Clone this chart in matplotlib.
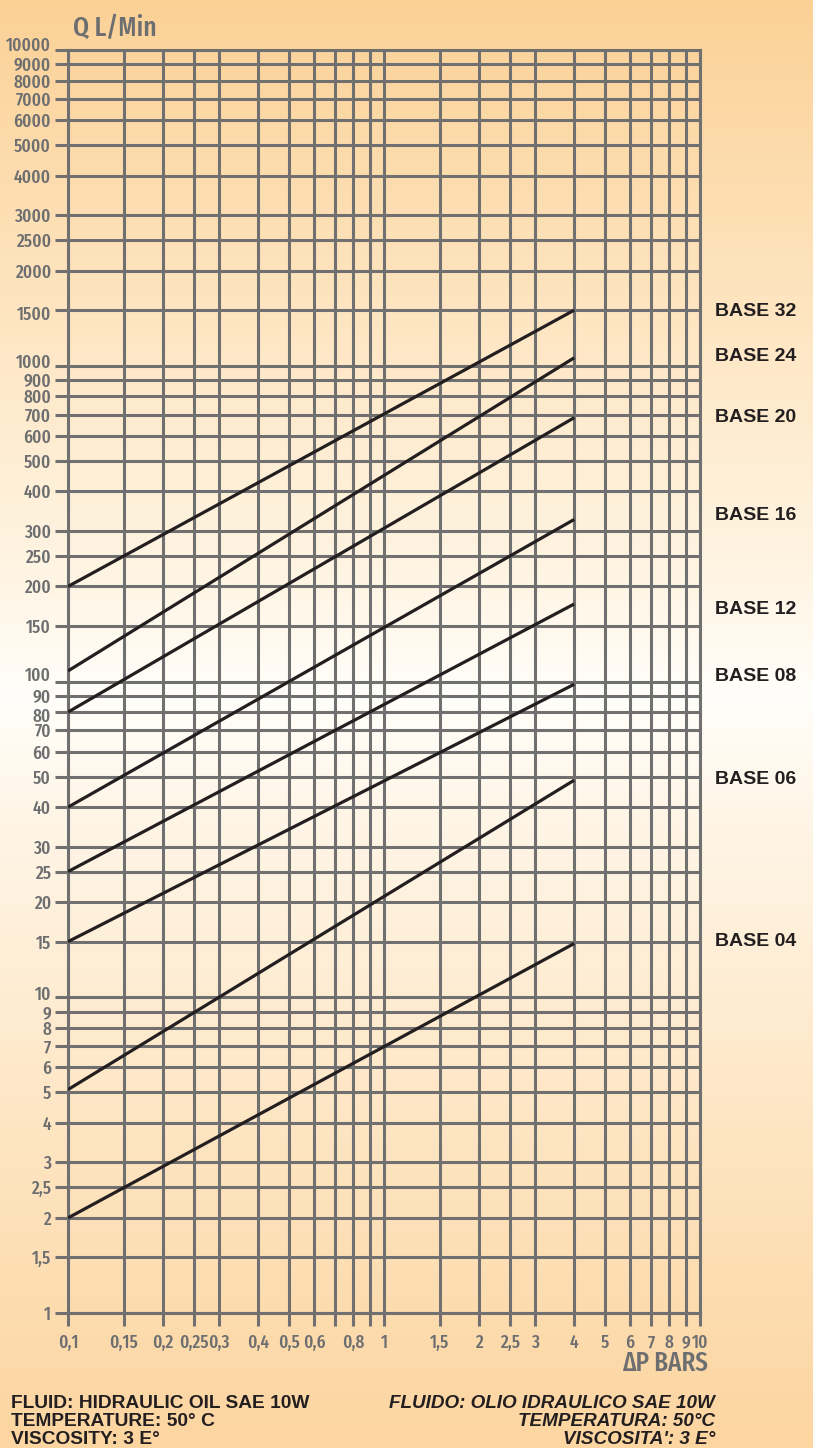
import numpy as np
import matplotlib
matplotlib.use('Agg')
import matplotlib.pyplot as plt
import matplotlib.font_manager as fm
from matplotlib import transforms
from matplotlib.ticker import FixedLocator, NullLocator, NullFormatter

# ---------------- data ----------------
x_grid = [0.1, 0.15, 0.2, 0.25, 0.3, 0.4, 0.5, 0.6, 0.7, 0.8, 0.9,
          1, 1.5, 2, 2.5, 3, 4, 5, 6, 7, 8, 9, 10]
x_labels = ['0,1', '0,15', '0,2', '0,25', '0,3', '0,4', '0,5', '0,6', '', '0,8', '',
            '1', '1,5', '2', '2,5', '3', '4', '5', '6', '7', '8', '9', '10']
y_grid = [1, 1.5, 2, 2.5, 3, 4, 5, 6, 7, 8, 9,
          10, 15, 20, 25, 30, 40, 50, 60, 70, 80, 90,
          100, 150, 200, 250, 300, 400, 500, 600, 700, 800, 900,
          1000, 1500, 2000, 2500, 3000, 4000, 5000, 6000, 7000, 8000, 9000, 10000]
y_labels = ['1', '1,5', '2', '2,5', '3', '4', '5', '6', '7', '8', '9',
            '10', '15', '20', '25', '30', '40', '50', '60', '70', '80', '90',
            '100', '150', '200', '250', '300', '400', '500', '600', '700', '800', '900',
            '1000', '1500', '2000', '2500', '3000', '4000', '5000', '6000', '7000', '8000', '9000', '10000']

base_names = ['BASE 32', 'BASE 24', 'BASE 20', 'BASE 16', 'BASE 12', 'BASE 08', 'BASE 06', 'BASE 04']
dp_range = [0.1, 4]
q_start = [200, 108, 80, 40, 25, 15, 5.1, 2]
q_end = [1500, 1060, 685, 326, 176, 98, 48.7, 14.8]


# ---------------- condensed font lookup ----------------
def _weight(w):
    if isinstance(w, (int, float)):
        return float(w)
    return float(fm.weight_dict.get(str(w).lower(), 400))


def pick_condensed():
    best, best_score = None, None
    for f in fm.fontManager.ttflist:
        nm = (f.name + ' ' + f.fname).lower().replace(' ', '').replace('-', '').replace('_', '')
        if f.style != 'normal':
            continue
        if 'extracondensed' in nm or 'ultracondensed' in nm:
            s = 0
        elif 'semicondensed' in nm:
            s = 2
        elif 'condensed' in nm or 'narrow' in nm or str(f.stretch) == 'condensed':
            s = 1
        else:
            continue
        if 'cjk' in nm or 'mono' in nm or 'serif' in nm:
            continue
        score = s * 10 + abs(_weight(f.weight) - 500) / 100.0
        if best_score is None or score < best_score:
            best, best_score = f, score
    return best


_cf = pick_condensed()


def cond_fp(size):
    if _cf is not None:
        return fm.FontProperties(fname=_cf.fname, size=size)
    return fm.FontProperties(family='DejaVu Sans', stretch='condensed', size=size * 0.8)


# ---------------- figure ----------------
W, H, DPI = 813, 1448, 100
fig = plt.figure(figsize=(W / DPI, H / DPI), dpi=DPI)

# background gradient
bg = fig.add_axes([0, 0, 1, 1], zorder=-10)
stops = [0.0, 0.2, 0.40, 0.48, 0.56, 0.76, 1.0]
cols = np.array([(251, 209, 150), (254, 228, 190), (255, 245, 228), (255, 254, 250),
                 (255, 246, 232), (254, 231, 198), (252, 213, 160)]) / 255.0
t = np.linspace(0, 1, 400)
grad = np.stack([np.interp(t, stops, cols[:, k]) for k in range(3)], axis=-1)[:, None, :]
bg.imshow(grad, aspect='auto', extent=[0, 1, 0, 1], origin='upper')
bg.set_axis_off()

left, right, top, bottom = 68, 700, 50, 1313
ax = fig.add_axes([left / W, 1 - bottom / H, (right - left) / W, (bottom - top) / H])
ax.patch.set_alpha(0)
ax.set_xscale('log')
ax.set_yscale('log')
ax.set_xlim(0.1, 10)
ax.set_ylim(1, 10000)

GRID = '#707070'
ax.xaxis.set_major_locator(FixedLocator(x_grid))
ax.yaxis.set_major_locator(FixedLocator(y_grid))
ax.xaxis.set_minor_locator(NullLocator())
ax.yaxis.set_minor_locator(NullLocator())
ax.xaxis.set_major_formatter(NullFormatter())
ax.yaxis.set_major_formatter(NullFormatter())
ax.grid(True, which='major', color=GRID, lw=2.2, zorder=1)
ax.tick_params(direction='out', length=9.4, width=2.2, color=GRID)
for s in ax.spines.values():
    s.set_color(GRID)
    s.set_linewidth(2.2)

for qa, qb in zip(q_start, q_end):
    ax.plot(dp_range, [qa, qb], color='#231f20', lw=2.3, zorder=5, solid_capstyle='butt')

LBL = '#6d6e70'

# y tick labels
ytr = transforms.blended_transform_factory(ax.transAxes, ax.transData)
y_off = {10000: 6, 1000: 5, 100: 7, 10: 4, 80: -3, 1500: -3}
xa = (51 - left) / (right - left)
for v, lab in zip(y_grid, y_labels):
    dy = -7 + y_off.get(v, 0)
    tr = transforms.offset_copy(ytr, fig=fig, x=0, y=dy, units='dots')
    ax.text(xa, v, lab, transform=tr, ha='right', va='baseline',
            fontproperties=cond_fp(13.5), color=LBL, clip_on=False)

# x tick labels
xtr = transforms.blended_transform_factory(ax.transData, ax.transAxes)
for v, lab in zip(x_grid, x_labels):
    if not lab:
        continue
    tr = transforms.offset_copy(xtr, fig=fig, x=0, y=-35, units='dots')
    ax.text(v, 0, lab, transform=tr, ha='center', va='baseline',
            fontproperties=cond_fp(13.5), color=LBL, clip_on=False)

# base labels (left edge at x = 715 px)
base_off = [1, -1, 0, -4, 6, -8, -1, -2]
btr = transforms.blended_transform_factory(fig.transFigure, ax.transData)
for name, qb, off in zip(base_names, q_end, base_off):
    tr = transforms.offset_copy(btr, fig=fig, x=0, y=-off, units='dots')
    ax.text(715 / W, qb, name, transform=tr, fontsize=14, fontweight='bold',
            family=['Liberation Sans', 'DejaVu Sans'], color='#231f20',
            va='center', ha='left', clip_on=False)

# axis titles
fig.text(73 / W, 1 - 36 / H, 'Q L/Min', fontproperties=cond_fp(20), color=LBL,
         ha='left', va='baseline')
fig.text(708 / W, 1 - 1371 / H, '\u0394P BARS', fontproperties=cond_fp(19.5), color=LBL,
         ha='right', va='baseline')

# footer
foot_l = ['FLUID: HIDRAULIC OIL SAE 10W', 'TEMPERATURE: 50\u00b0 C', 'VISCOSITY: 3 E\u00b0']
foot_r = ['FLUIDO: OLIO IDRAULICO SAE 10W', 'TEMPERATURA: 50\u00b0C', "VISCOSITA': 3 E\u00b0"]
base_y = [1408, 1426, 1444]
for a, b, yb in zip(foot_l, foot_r, base_y):
    fig.text(11 / W, 1 - yb / H, a, fontsize=13.8, fontweight='bold',
             family=['Liberation Sans', 'DejaVu Sans'], color='#231f20',
             ha='left', va='baseline')
    fig.text(715 / W, 1 - yb / H, b, fontsize=13.6, fontweight='bold', style='italic',
             family=['Liberation Sans', 'DejaVu Sans'], color='#231f20',
             ha='right', va='baseline')

fig.savefig('out.png', dpi=DPI)
